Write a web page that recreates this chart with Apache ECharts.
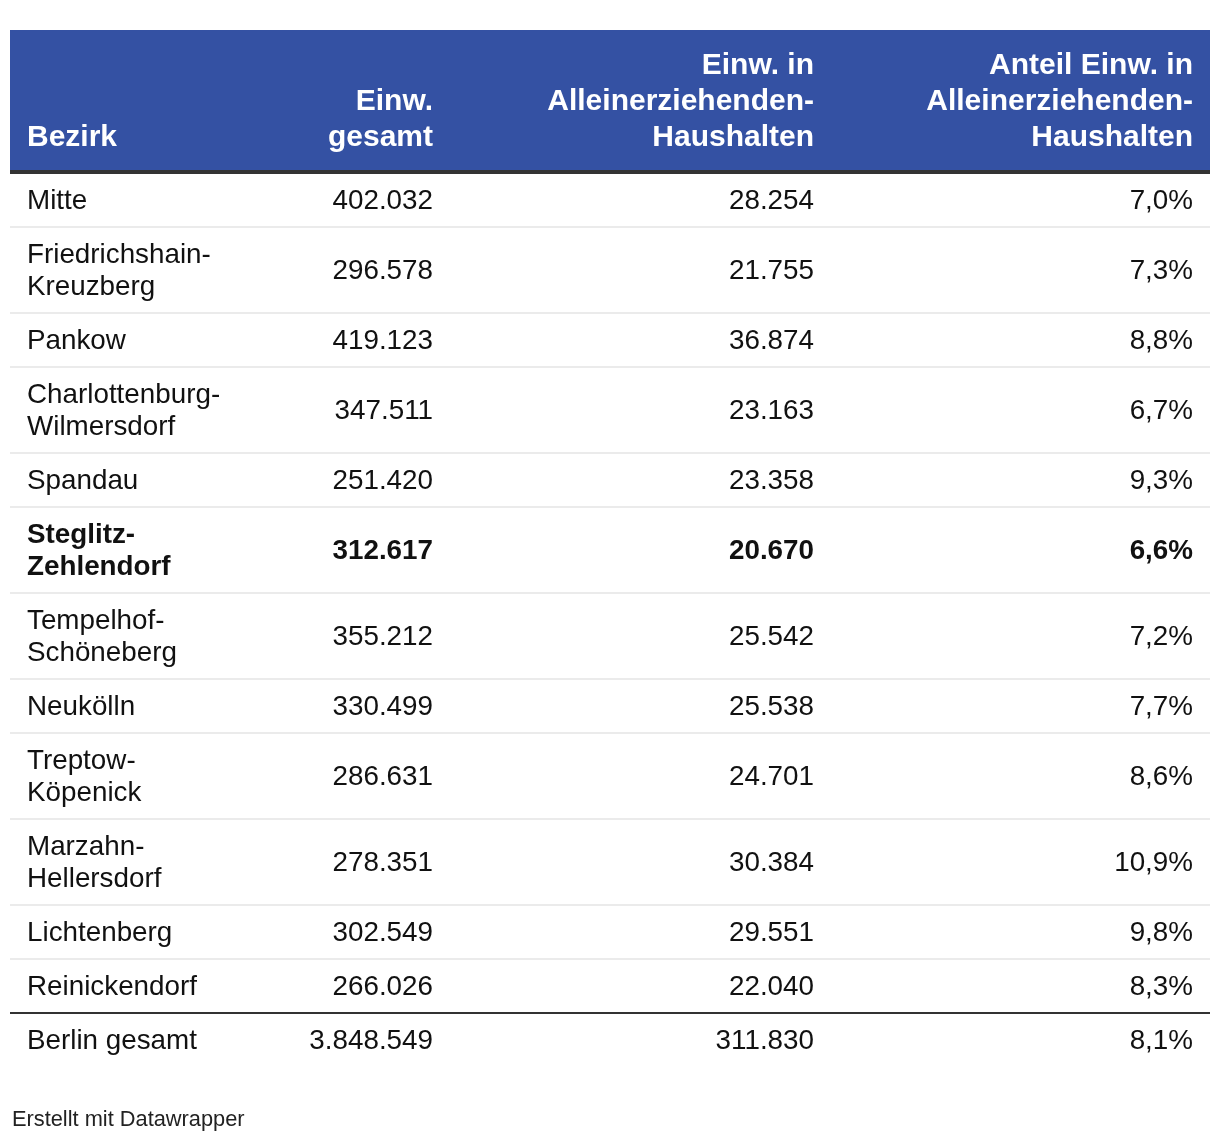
<!DOCTYPE html>
<html><head><meta charset="utf-8">
<script src="https://cdn.jsdelivr.net/npm/echarts@6/dist/echarts.min.js"></script>
<style>html,body{margin:0;padding:0;background:#fff}#c{width:1220px;height:1140px}</style>
</head><body><div id="c"></div>
<script>
// ---- data ----
const headers = ['Bezirk', 'Einw.\ngesamt', 'Einw. in\nAlleinerziehenden-\nHaushalten', 'Anteil Einw. in\nAlleinerziehenden-\nHaushalten'];
const bezirke = ['Mitte', 'Friedrichshain-\nKreuzberg', 'Pankow', 'Charlottenburg-\nWilmersdorf', 'Spandau', 'Steglitz-\nZehlendorf', 'Tempelhof-\nSchöneberg', 'Neukölln', 'Treptow-\nKöpenick', 'Marzahn-\nHellersdorf', 'Lichtenberg', 'Reinickendorf'];
const einwGesamt = [402032, 296578, 419123, 347511, 251420, 312617, 355212, 330499, 286631, 278351, 302549, 266026];
const einwAllein = [28254, 21755, 36874, 23163, 23358, 20670, 25542, 25538, 24701, 30384, 29551, 22040];
const anteil = [7.0, 7.3, 8.8, 6.7, 9.3, 6.6, 7.2, 7.7, 8.6, 10.9, 9.8, 8.3];
const highlighted = ['Steglitz-\nZehlendorf'];
const totalLabel = 'Berlin gesamt';
const totalGesamt = [3848549];
const totalAllein = [311830];
const totalAnteil = [8.1];
const footerText = 'Erstellt mit Datawrapper';

// ---- formatting ----
const fmtInt = n => String(n).replace(/\B(?=(\d{3})+(?!\d))/g, '.');
const fmtPct = v => v.toFixed(1).replace('.', ',') + '%';

const rows = bezirke.map((b, i) => ({
  cells: [b, fmtInt(einwGesamt[i]), fmtInt(einwAllein[i]), fmtPct(anteil[i])],
  bold: highlighted.indexOf(b) >= 0, total: false
}));
rows.push({ cells: [totalLabel, fmtInt(totalGesamt[0]), fmtInt(totalAllein[0]), fmtPct(totalAnteil[0])], bold: false, total: true });

// ---- layout ----
const LINE = 32, PAD = 22, HEADER_H = 140, HEADER_RULE = 4, TABLE_W = 1200;
let acc = HEADER_H + HEADER_RULE;
rows.forEach(r => { r.lines = r.cells[0].split('\n').length; r.y0 = acc; r.h = PAD + LINE * r.lines; acc += r.h; });
const tableH = acc;

const FONT = "'Liberation Sans', Arial, Helvetica, sans-serif";
const BODY_SIZE = 27.8, HEAD_SIZE = 30;
const colAnchor = (left, right, c) => c === 0 ? left + 17 : (c === 1 ? left + 423 : (c === 2 ? left + 804 : right - 17));

const chart = echarts.init(document.getElementById('c'), null, { renderer: 'canvas' });
chart.setOption({
  animation: false,
  backgroundColor: '#fff',
  grid: { left: 10, top: 30, width: TABLE_W, height: tableH },
  xAxis: { type: 'value', min: 0, max: TABLE_W, show: false },
  yAxis: { type: 'value', min: 0, max: tableH, inverse: true, show: false },
  graphic: [{
    type: 'text', x: 12, y: 1120, silent: true,
    style: { text: footerText, fontFamily: FONT, fontSize: 21.8, fill: '#222', verticalAlign: 'middle', align: 'left' }
  }],
  series: [
    {
      type: 'custom', name: 'header', data: [[0]],
      renderItem: (params, api) => {
        const p0 = api.coord([0, 0]);
        const p1 = api.coord([TABLE_W, HEADER_H]);
        const p2 = api.coord([TABLE_W, HEADER_H + HEADER_RULE]);
        const children = [
          { type: 'rect', shape: { x: p0[0], y: p0[1], width: p1[0] - p0[0], height: p1[1] - p0[1] }, style: { fill: '#3451a3' } },
          { type: 'rect', shape: { x: p0[0], y: p1[1], width: p1[0] - p0[0], height: p2[1] - p1[1] }, style: { fill: '#333' } }
        ];
        headers.forEach((h, c) => {
          children.push({
            type: 'text', x: colAnchor(p0[0], p1[0], c), y: p1[1] - 14,
            style: { text: h, fontFamily: FONT, fontSize: HEAD_SIZE, fontWeight: 'bold', lineHeight: 36, fill: '#fff', align: c === 0 ? 'left' : 'right', verticalAlign: 'bottom' }
          });
        });
        return { type: 'group', children };
      }
    },
    {
      type: 'custom', name: 'rows', data: rows.map((r, i) => [i]),
      renderItem: (params, api) => {
        const i = params.dataIndex, r = rows[i];
        const p0 = api.coord([0, r.y0]);
        const p1 = api.coord([TABLE_W, r.y0 + r.h]);
        const mid = (p0[1] + p1[1]) / 2;
        const children = [];
        const next = rows[i + 1];
        if (next) {
          children.push({ type: 'rect', shape: { x: p0[0], y: p1[1] - 2, width: p1[0] - p0[0], height: 2 }, style: { fill: next.total ? '#333' : '#ebebeb' } });
        }
        r.cells.forEach((t, c) => {
          children.push({
            type: 'text', x: colAnchor(p0[0], p1[0], c), y: mid,
            style: { text: t, fontFamily: FONT, fontSize: BODY_SIZE, fontWeight: r.bold ? 'bold' : 'normal', lineHeight: LINE, fill: '#111', align: c === 0 ? 'left' : 'right', verticalAlign: 'middle' }
          });
        });
        return { type: 'group', children };
      }
    }
  ]
});
</script></body></html>
